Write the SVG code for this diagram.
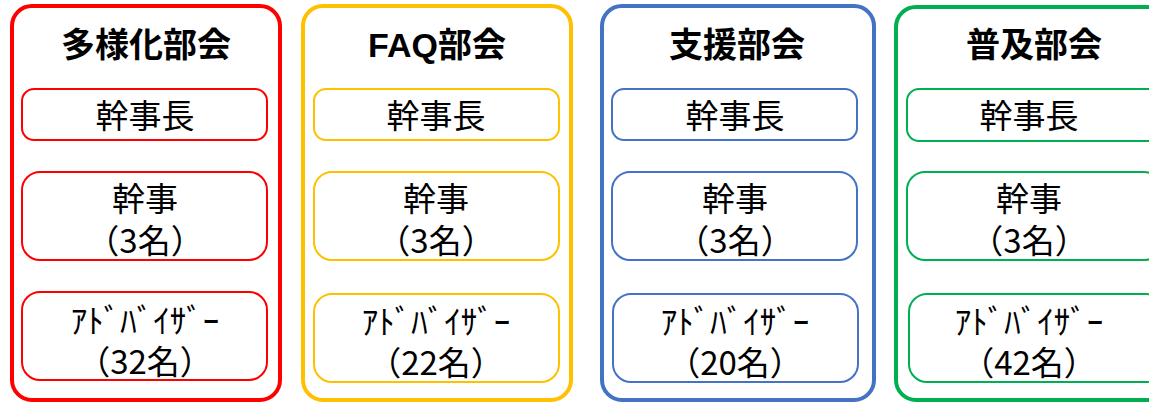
<svg xmlns="http://www.w3.org/2000/svg" width="1149" height="406" viewBox="0 0 1149 406">
<style>
.outer{fill:#fff;stroke-width:4}
.inner{fill:#fff;stroke-width:2}
.t{font-family:"Noto Sans CJK JP","Noto Sans",sans-serif;font-size:33px;fill:#000;text-anchor:middle;dominant-baseline:central}
.h{font-family:"Liberation Sans","Noto Sans CJK JP",sans-serif;font-size:34px;font-weight:bold;fill:#000;text-anchor:middle;dominant-baseline:central}
.r{stroke:#FF0000}.y{stroke:#FFC000}.b{stroke:#4472C4}.g{stroke:#00B050}
</style>
<rect width="1149" height="406" fill="#fff"/>
<g id="tayouka">
<rect class="outer r" x="12" y="6" width="268" height="394" rx="20"/>
<text class="h" x="146" y="45">多様化部会</text>
<rect class="inner r" x="22" y="89" width="245" height="51" rx="12"/>
<text class="t" x="145" y="114">幹事長</text>
<rect class="inner r" x="22" y="172" width="245" height="88" rx="18"/>
<text class="t" x="145" y="197">幹事</text>
<text class="t" x="145" y="239">（3名）</text>
<rect class="inner r" x="22" y="292" width="245" height="88" rx="18"/>
<text class="t" x="145" y="319">ｱﾄﾞﾊﾞｲｻﾞｰ</text>
<text class="t" x="145" y="360">（32名）</text>
</g>
<g id="faq">
<rect class="outer y" x="303" y="6" width="268" height="394" rx="20"/>
<text class="h" x="437" y="45">FAQ部会</text>
<rect class="inner y" x="314" y="89" width="245" height="51" rx="12"/>
<text class="t" x="436" y="114">幹事長</text>
<rect class="inner y" x="314" y="172" width="245" height="88" rx="18"/>
<text class="t" x="436" y="197">幹事</text>
<text class="t" x="436" y="239">（3名）</text>
<rect class="inner y" x="314" y="294" width="245" height="88" rx="18"/>
<text class="t" x="436" y="320">ｱﾄﾞﾊﾞｲｻﾞｰ</text>
<text class="t" x="436" y="361">（22名）</text>
</g>
<g id="shien">
<rect class="outer b" x="602" y="6" width="272" height="394" rx="20"/>
<text class="h" x="737" y="45">支援部会</text>
<rect class="inner b" x="612" y="89" width="245" height="51" rx="12"/>
<text class="t" x="735" y="114">幹事長</text>
<rect class="inner b" x="612" y="172" width="245" height="88" rx="18"/>
<text class="t" x="735" y="197">幹事</text>
<text class="t" x="735" y="239">（3名）</text>
<rect class="inner b" x="613" y="294" width="245" height="88" rx="18"/>
<text class="t" x="735" y="320">ｱﾄﾞﾊﾞｲｻﾞｰ</text>
<text class="t" x="735" y="361">（20名）</text>
</g>
<g id="fukyu">
<rect class="outer g" x="896" y="7" width="272" height="393" rx="20"/>
<text class="h" x="1034" y="45">普及部会</text>
<rect class="inner g" x="907" y="89" width="255" height="52" rx="12"/>
<text class="t" x="1029" y="114">幹事長</text>
<rect class="inner g" x="907" y="172" width="255" height="88" rx="18"/>
<text class="t" x="1029" y="197">幹事</text>
<text class="t" x="1029" y="239">（3名）</text>
<rect class="inner g" x="909" y="294" width="255" height="88" rx="18"/>
<text class="t" x="1029" y="320">ｱﾄﾞﾊﾞｲｻﾞｰ</text>
<text class="t" x="1029" y="361">（42名）</text>
</g>
<g id="connectors"></g>
</svg>
